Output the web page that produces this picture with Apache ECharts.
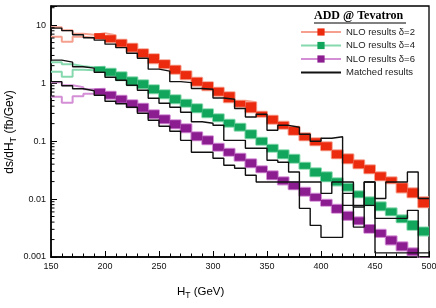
<!DOCTYPE html>
<html><head><meta charset="utf-8">
<script src="https://cdn.jsdelivr.net/npm/echarts@6/dist/echarts.min.js"></script>
<style>html,body{margin:0;padding:0;background:#fff}#c{width:436px;height:308px}</style>
</head><body><div id="c"></div><script>
// ---- data ----
const binStart = [150,160,170,180,190,200,210,220,230,240,250,260,270,280,290,300,310,320,330,340,350,360,370,380,390,400,410,420,430,440,450,460,470,480,490];
const binWidth = 10;
const xTicks = [150,200,250,300,350,400,450,500];
const yTicks = [0.001,0.01,0.1,1,10];

const nlo2Hi = [9.24,8.19,7.13,6.85,7.27,6.72,5.62,4.79,3.85,3.16,2.49,2.00,1.61,1.24,1.04,0.833,0.696,0.497,0.468,0.321,0.274,0.215,0.177,0.136,0.112,0.0953,0.0694,0.0592,0.0466,0.0382,0.0289,0.0237,0.0187,0.0153,0.0107];
const nlo2Lo = [6.33,5.19,6.33,6.08,5.73,5.09,4.25,3.49,2.80,2.21,1.81,1.45,1.17,0.902,0.754,0.606,0.468,0.391,0.314,0.263,0.199,0.163,0.128,0.103,0.0846,0.0694,0.0504,0.0414,0.0339,0.0278,0.0210,0.0187,0.0130,0.0107,0.00719];
const nlo4Hi = [2.30,2.12,1.96,1.88,1.92,1.77,1.54,1.26,1.12,0.920,0.754,0.618,0.517,0.432,0.354,0.290,0.233,0.199,0.154,0.114,0.0863,0.0694,0.0580,0.0422,0.0339,0.0289,0.0228,0.0183,0.0136,0.0107,0.00877,0.00691,0.00523,0.00420,0.00324];
const nlo4Lo = [1.57,1.29,1.70,1.67,1.57,1.34,1.12,0.920,0.816,0.669,0.548,0.450,0.391,0.314,0.258,0.220,0.177,0.151,0.112,0.0863,0.0654,0.0504,0.0422,0.0332,0.0247,0.0202,0.0172,0.0139,0.0107,0.00778,0.00638,0.00523,0.00396,0.00294,0.00236];
const nlo6Hi = [1.04,0.920,0.850,0.785,0.800,0.710,0.606,0.507,0.441,0.340,0.279,0.229,0.195,0.142,0.121,0.0898,0.0736,0.0604,0.0485,0.0367,0.0301,0.0237,0.0194,0.0156,0.0123,0.00969,0.00794,0.00601,0.00483,0.00358,0.00294,0.00227,0.00179,0.00141,0.000946];
const nlo6Lo = [0.582,0.459,0.594,0.656,0.631,0.538,0.459,0.384,0.321,0.248,0.203,0.166,0.142,0.103,0.0880,0.0680,0.0557,0.0457,0.0353,0.0289,0.0219,0.0179,0.0147,0.0114,0.00931,0.00763,0.00578,0.00437,0.00366,0.00261,0.00222,0.00165,0.00130,0.00107,0.000688];
const matched2 = [8.88,8.04,6.85,6.08,5.51,4.70,4.09,3.28,2.69,1.74,1.61,1.06,1.02,0.807,0.785,0.555,0.527,0.364,0.261,0.290,0.154,0.187,0.173,0.131,0.0992,0.112,0.119,0.0197,0.00727,0.0197,0.0102,0.0197,0.0197,0.0293,0.0102];
const matched4 = [2.49,2.30,1.92,1.81,1.54,1.26,1.12,0.920,0.754,0.548,0.450,0.384,0.314,0.215,0.203,0.187,0.103,0.103,0.0751,0.0751,0.0466,0.0430,0.0293,0.0197,0.0197,0.0125,0.0197,0.00778,0.00778,0.00778,0.00464,0.00464,0.00464,0.00638,0];
const matched6 = [1.06,0.902,0.800,0.739,0.618,0.487,0.441,0.384,0.302,0.229,0.180,0.148,0.103,0.0640,0.0640,0.0504,0.0382,0.0339,0.0257,0.0197,0.0197,0.0197,0.0197,0.00691,0.00351,0.00218,0.00218,0.0125,0.00328,0.0197,0.00118,0.00118,0.00118,0.00118,0.00118];

// ---- style ----
const firstFilled = 190;
const C = {
  r: {dark:'#ec2a0e', light:'#f5a08e'},
  g: {dark:'#12a65c', light:'#86d9ae'},
  p: {dark:'#8c1d90', light:'#d38ed6'}
};
const FONT = 'Liberation Sans';
const yMin = 0.001, yMax = 21.4, xMin = 150, xMax = 500;

function stepData(arr){
  const d = binStart.map((b,i)=>[b, arr[i] > 0 ? arr[i] : yMin*1e-3]);
  d.push([binStart[binStart.length-1]+binWidth, d[d.length-1][1]]);
  return d;
}
function edgeSeries(name, arr, col, legendItem){
  return {type:'line', name:name, data:stepData(arr), step:'end', symbol: legendItem ? 'rect' : 'none',
    showSymbol:false, lineStyle:{color:col.light, width:2}, itemStyle:{color:col.dark},
    z:2, silent:true, animation:false, clip:true};
}
function fillSeries(lo, hi, col){
  const data = [];
  binStart.forEach((b,i)=>{ if (b >= firstFilled) data.push([b, b+binWidth, lo[i], hi[i]]); });
  return {type:'custom', data:data, z:3, silent:true, animation:false,
    encode:{x:[0,1], y:[2,3]},
    renderItem:function(params, api){
      const p0 = api.coord([api.value(0), api.value(3)]);
      const p1 = api.coord([api.value(1), api.value(2)]);
      const cs = params.coordSys;
      const r = echarts.graphic.clipRectByRect({x:p0[0], y:p0[1], width:p1[0]-p0[0], height:p1[1]-p0[1]},
        {x:cs.x, y:cs.y, width:cs.width, height:cs.height});
      return r && {type:'rect', shape:r, style:{fill:col.dark}};
    }};
}
function matchedSeries(arr){
  return {type:'line', name:'Matched results', data:stepData(arr), step:'end', symbol:'none',
    lineStyle:{color:'#111', width:1.4}, itemStyle:{color:'#111'}, z:4, silent:true, animation:false, clip:true};
}
// minor ticks of the log axis (2..9 per decade)
const minorY = [];
for (let e=-3; e<=1; e++) for (let m=2; m<=9; m++){ const v=m*Math.pow(10,e); if (v<yMax) minorY.push([v]); }

const chart = echarts.init(document.getElementById('c'), null, {renderer:'canvas'});
chart.setOption({
  animation:false,
  backgroundColor:'#fff',
  grid:{left:51, right:7, top:6, bottom:51, show:true, borderColor:'#000', borderWidth:1.3, containLabel:false, outerBoundsMode:'none'},
  xAxis:{type:'value', min:xMin, max:xMax, interval:50,
    axisLine:{show:true, onZero:false, lineStyle:{color:'#000', width:1.5}},
    axisTick:{show:true, inside:true, length:6, lineStyle:{color:'#000', width:1}},
    minorTick:{show:true, splitNumber:5, length:3.5, lineStyle:{color:'#000', width:1}},
    splitLine:{show:false},
    axisLabel:{fontSize:9, fontFamily:FONT, color:'#111', margin:5,
      formatter:v=> xTicks.indexOf(v)>=0 ? String(v) : ''}},
  yAxis:{type:'log', logBase:10, min:yMin, max:yMax,
    axisLine:{show:true, lineStyle:{color:'#000', width:1.5}},
    axisTick:{show:true, inside:true, length:6, lineStyle:{color:'#000', width:1}},
    splitLine:{show:false}, minorTick:{show:false},
    axisLabel:{fontSize:9, fontFamily:FONT, color:'#111', margin:5,
      formatter:function(v){ for (const t of yTicks){ if (Math.abs(v-t)/t < 1e-6) return String(t); } return ''; }}},
  legend:{orient:'vertical', left:295, top:22, itemWidth:40, itemHeight:9, itemGap:3.5,
    textStyle:{fontSize:9.5, fontFamily:FONT, color:'#222'},
    data:[{name:'NLO results δ=2'},{name:'NLO results δ=4'},{name:'NLO results δ=6'},
          {name:'Matched results', itemStyle:{opacity:0}}]},
  graphic:[
    {type:'text', left:314, top:10, style:{text:'ADD @ Tevatron', font:'bold 12px "Liberation Serif"', fill:'#000'}},
    {type:'line', shape:{x1:314, y1:23, x2:406, y2:23}, style:{stroke:'#000', lineWidth:1}},
    {type:'text', left:177, top:286, style:{text:'{a|H}{b|T}{a| (GeV)}', rich:{a:{fontSize:11.5, fontFamily:FONT, fill:'#000'}, b:{fontSize:8.5, fontFamily:FONT, fill:'#000', padding:[7,0,0,0]}}}},
    {type:'text', x:10, y:132, rotation:Math.PI/2, style:{text:'{a|ds/dH}{b|T}{a| (fb/Gev)}', align:'center', verticalAlign:'middle', rich:{a:{fontSize:12, fontFamily:FONT, fill:'#000'}, b:{fontSize:9, fontFamily:FONT, fill:'#000', padding:[7,0,0,0]}}}}
  ],
  series:[
    edgeSeries('NLO results δ=2', nlo2Hi, C.r, true), edgeSeries('lo2', nlo2Lo, C.r, false), fillSeries(nlo2Lo, nlo2Hi, C.r),
    edgeSeries('NLO results δ=4', nlo4Hi, C.g, true), edgeSeries('lo4', nlo4Lo, C.g, false), fillSeries(nlo4Lo, nlo4Hi, C.g),
    edgeSeries('NLO results δ=6', nlo6Hi, C.p, true), edgeSeries('lo6', nlo6Lo, C.p, false), fillSeries(nlo6Lo, nlo6Hi, C.p),
    matchedSeries(matched2), matchedSeries(matched4), matchedSeries(matched6),
    {type:'custom', data:minorY, silent:true, animation:false, z:5, encode:{y:0},
      renderItem:function(params, api){
        const cs = params.coordSys; const p = api.coord([xMin, api.value(0)]);
        return {type:'line', shape:{x1:cs.x, y1:p[1], x2:cs.x+3.5, y2:p[1]}, style:{stroke:'#000', lineWidth:1}};
      }}
  ]
});
</script></body></html>
